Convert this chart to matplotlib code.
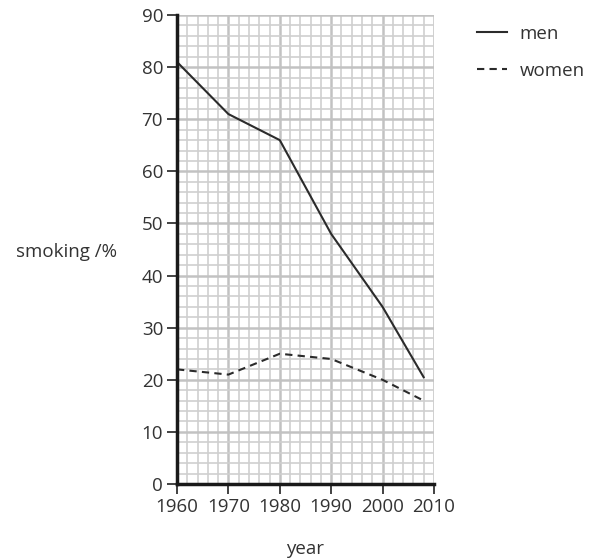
import matplotlib.pyplot as plt
import numpy as np

years = [1960, 1970, 1980, 1990, 2000, 2008]
men = [81, 71, 66, 48, 34, 20.5]
women = [22, 21, 25, 24, 20, 16]

plt.rcParams['font.family'] = ['Open Sans', 'DejaVu Sans']

fig = plt.figure(figsize=(5.92, 5.58), dpi=100)
ax = fig.add_axes([0.299, 0.1326, 0.434, 0.8404])

ax.plot(years, men, color='#2b2b2b', lw=1.5, label='men')
ax.plot(years, women, color='#2b2b2b', lw=1.5, ls=(0, (3.5, 2.5)), label='women')

ax.set_xlim(1960, 2010)
ax.set_ylim(0, 90)
ax.set_xticks(np.arange(1960, 2011, 10))
ax.set_yticks(np.arange(0, 91, 10))
ax.set_xticks(np.arange(1960, 2011, 2), minor=True)
ax.set_yticks(np.arange(0, 91, 2), minor=True)
ax.grid(which='minor', color='#cfcfcf', lw=1.2)
ax.grid(which='major', color='#c2c2c2', lw=1.8)
ax.set_axisbelow(True)

for s in ['top', 'right']:
    ax.spines[s].set_visible(False)
for s in ['left', 'bottom']:
    ax.spines[s].set_linewidth(2.5)
    ax.spines[s].set_color('#1a1a1a')
ax.tick_params(which='major', length=7, width=1.3, color='#333333', labelsize=13.5,
               labelcolor='#333333', pad=3)
ax.tick_params(which='minor', length=0)

ax.set_xlabel('year', fontsize=13.5, color='#333333', labelpad=17)
ax.set_ylabel('smoking /%', fontsize=13.5, color='#333333', rotation=0)
ax.yaxis.set_label_coords(-0.43, 0.475)

ax.legend(loc='upper left', bbox_to_anchor=(1.1, 1.015), frameon=False,
          fontsize=13.5, handlelength=1.6, handletextpad=0.7, labelspacing=1.0,
          labelcolor='#333333')

fig.savefig('out.png', dpi=100)
